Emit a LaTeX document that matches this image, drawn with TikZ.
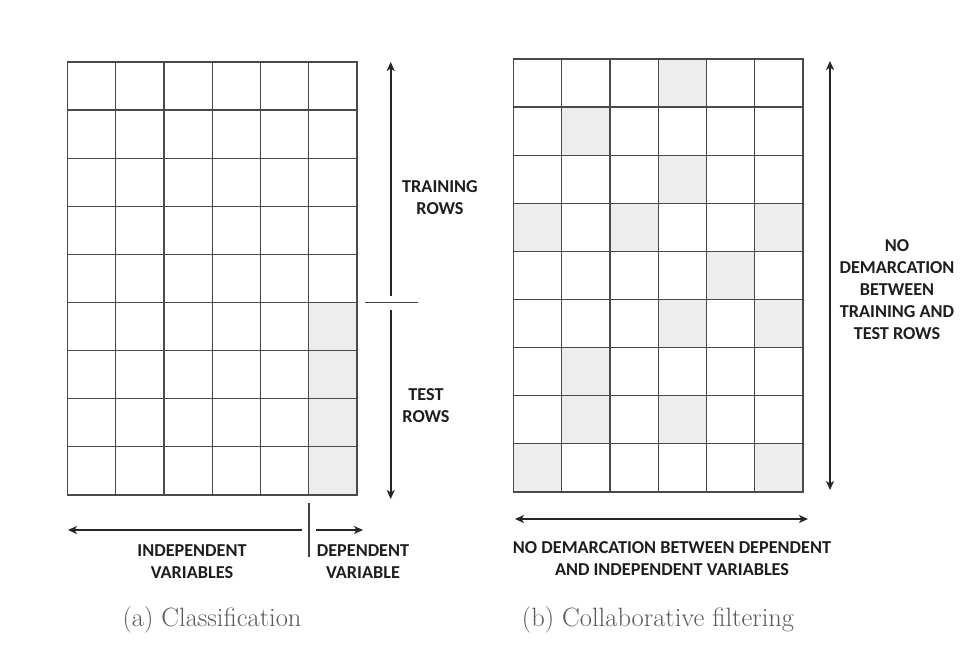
\documentclass[tikz,border=0pt]{standalone}
\usepackage{fontspec}
\newfontfamily\lblfont{Carlito}
\usetikzlibrary{arrows.meta}

\definecolor{gridc}{HTML}{4A4A4A}
\definecolor{cellshade}{HTML}{EDEDEF}
\definecolor{lblc}{HTML}{1E1E1E}
\definecolor{capc}{HTML}{5A5A5A}

\tikzset{
  gridline/.style={draw=gridc, line width=1.3pt, line cap=rect},
  shadecell/.style={fill=cellshade},
  arr/.style={draw=black!85, line width=1.7pt},
  tip/.style={-{Stealth[length=9pt,width=8pt,inset=2.5pt]}},
  bitip/.style={{Stealth[length=9pt,width=8pt,inset=2.5pt]}-{Stealth[length=9pt,width=8pt,inset=2.5pt]}},
  divider/.style={draw=black!75, line width=1.4pt},
  lbl/.style={text=lblc, align=center, inner sep=0pt,
    font=\lblfont\bfseries\fontsize{18.2}{22}\selectfont},
  caption/.style={text=capc, inner sep=0pt, font=\fontsize{26.5}{30}\selectfont}
}

\begin{document}
\begin{tikzpicture}[x=1pt,y=-1pt]
\useasboundingbox (0,0) rectangle (974,654);
\fill[white] (0,0) rectangle (974,654);

% (a) classification matrix: last column of the lower rows is the target
\begin{scope}[shift={(67.5,62)}, x=48.25pt, y=-48.1pt]
  \fill[shadecell] (5,5) rectangle (6,9);
  \foreach \i in {0,...,6} \draw[gridline] (\i,0) -- (\i,9);
  \foreach \j in {0,...,9} \draw[gridline] (0,\j) -- (6,\j);
\end{scope}

% (b) collaborative filtering matrix: scattered missing entries
\begin{scope}[shift={(513.5,59)}, x=48.25pt, y=-48.1pt]
  \foreach \c/\r in {3/0,1/1,3/2,0/3,2/3,5/3,4/4,3/5,5/5,1/6,1/7,3/7,0/8,5/8}
    \fill[shadecell] (\c,\r) rectangle ++(1,1);
  \foreach \i in {0,...,6} \draw[gridline] (\i,0) -- (\i,9);
  \foreach \j in {0,...,9} \draw[gridline] (0,\j) -- (6,\j);
\end{scope}

% row split for (a)
\coordinate (trTop) at (390.7,62);
\coordinate (trBot) at (390.7,296);
\coordinate (teTop) at (390.7,309.5);
\coordinate (teBot) at (390.7,499);
\coordinate (rsL) at (365,302.7);
\coordinate (rsR) at (418,302.7);
\draw[arr, tip] (trBot) -- (trTop);
\draw[arr, tip] (teTop) -- (teBot);
\draw[divider] (rsL) -- (rsR);

\node[lbl] (trainlbl) at (440,198) {TRAINING\\ROWS};
\node[lbl] (testlbl) at (426,406) {TEST\\ROWS};

% column split for (a)
\coordinate (csTop) at (309,503);
\coordinate (csBot) at (309,557);
\coordinate (indR) at (302,530);
\coordinate (indL) at (68,530);
\coordinate (depL) at (316,530);
\coordinate (depR) at (363,530);
\draw[divider] (csTop) -- (csBot);
\draw[arr, tip] (indR) -- (indL);
\draw[arr, tip] (depL) -- (depR);

\node[lbl] (indlbl) at (192,562) {INDEPENDENT\\VARIABLES};
\node[lbl] (deplbl) at (363,562) {DEPENDENT\\VARIABLE};

% (b) arrows without any split
\coordinate (rowTop) at (830,61);
\coordinate (rowBot) at (830,490);
\coordinate (colL) at (515,519);
\coordinate (colR) at (808,519);
\draw[arr, bitip] (rowTop) -- (rowBot);
\draw[arr, bitip] (colL) -- (colR);

\node[lbl] (rowlbl) at (897,289.5) {NO\\DEMARCATION\\BETWEEN\\TRAINING AND\\TEST ROWS};
\node[lbl] (collbl) at (672,559) {NO DEMARCATION BETWEEN DEPENDENT\\AND INDEPENDENT VARIABLES};

% sub-figure captions
\node[caption] (capa) at (212,620) {(a) Classification};
\node[caption] (capb) at (658,620) {(b) Collaborative filtering};
\end{tikzpicture}
\end{document}
